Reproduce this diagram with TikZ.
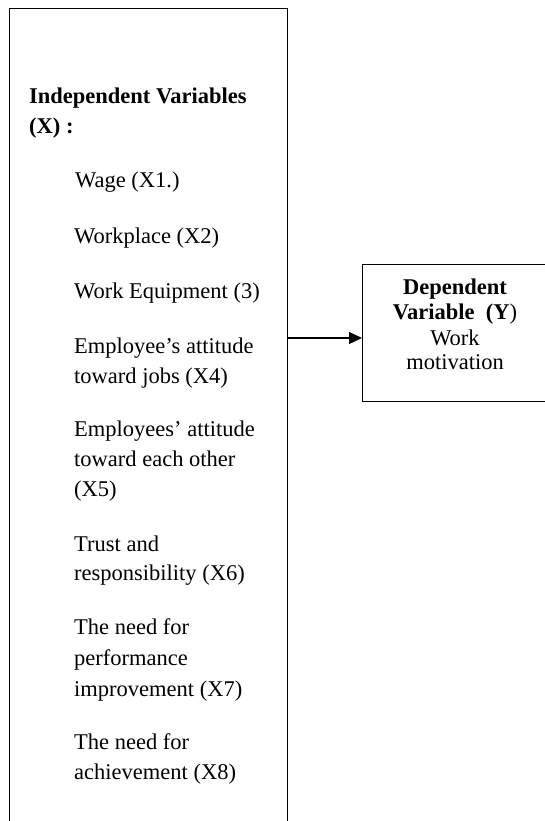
\documentclass[tikz,border=0pt]{standalone}
\usepackage{fontspec}
\setmainfont{Liberation Serif}
\usetikzlibrary{arrows.meta}
\tikzset{
  boxline/.style={draw=black, line width=1.3pt, inner sep=0pt},
  item/.style={anchor=base west, inner sep=0pt, font=\fontsize{22.5pt}{30pt}\selectfont},
  head/.style={anchor=base west, inner sep=0pt, font=\fontsize{22.5pt}{30pt}\selectfont\bfseries},
  dtxt/.style={anchor=base, inner sep=0pt, font=\fontsize{22.5pt}{26pt}\selectfont},
  link/.style={line width=1.3pt, -{Triangle[length=13pt,width=12pt]}}
}
\begin{document}
\begin{tikzpicture}[x=1pt,y=-1pt]
\useasboundingbox (0,0) rectangle (545,821);
\clip (0,0) rectangle (545,821);
% boxes
\node[boxline, anchor=north west, minimum width=278pt, minimum height=840pt] (indep) at (9,8) {};
\node[boxline, anchor=north west, minimum width=186pt, minimum height=137pt] (dep) at (362,264) {};
% left texts
\node[head] (h1) at (29,104) {Independent Variables};
\node[head] (h2) at (29,134) {(X) :};
\node[item] (x1) at (75,188) {Wage (X1.)};
\node[item] (x2) at (74,243) {Workplace (X2)};
\node[item] (x3) at (74,298) {Work Equipment (3)};
\node[item] (x4a) at (74,353) {Employee’s attitude};
\node[item] (x4b) at (74,383) {toward jobs (X4)};
\node[item] (x5a) at (74,436) {Employees’ attitude};
\node[item] (x5b) at (74,466) {toward each other};
\node[item] (x5c) at (74,496) {(X5)};
\node[item] (x6a) at (74,551) {Trust and};
\node[item] (x6b) at (74,580) {responsibility (X6)};
\node[item] (x7a) at (74,634) {The need for};
\node[item] (x7b) at (74,665) {performance};
\node[item] (x7c) at (74,696) {improvement (X7)};
\node[item] (x8a) at (74,749) {The need for};
\node[item] (x8b) at (74,779) {achievement (X8)};
% right texts
\node[dtxt, font=\fontsize{22.5pt}{26pt}\selectfont\bfseries] (d1) at (455,294) {Dependent};
\node[dtxt] (d2) at (455,319) {\textbf{Variable\ \ (Y})};
\node[dtxt] (d3) at (455,345) {Work};
\node[dtxt] (d4) at (455,369) {motivation};
% connector
\coordinate (src) at (indep.east |- 0,338);
\draw[link] (src) -- (src -| dep.west);
\end{tikzpicture}
\end{document}
